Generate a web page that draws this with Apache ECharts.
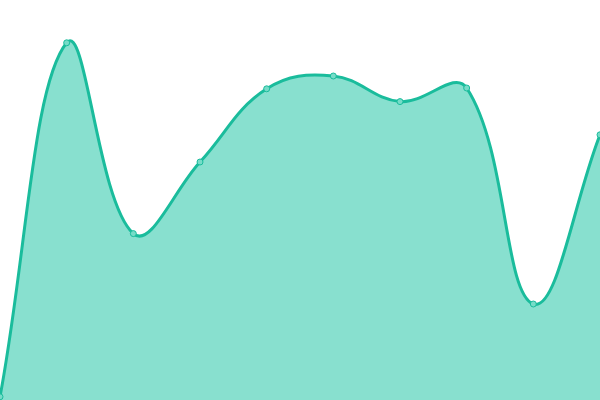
<!DOCTYPE html>
<html><head><meta charset="utf-8">
<script src="https://cdn.jsdelivr.net/npm/echarts@6/dist/echarts.min.js"></script>
<style>html,body{margin:0;padding:0;background:#fff}#c{width:600px;height:400px}</style>
</head><body><div id="c"></div>
<script>
var categories = ['A','B','C','D','E','F','G','H','I','J'];
var values = [0.8, 89.3, 41.6, 59.5, 77.8, 81, 74.6, 78, 24, 66.3];
var tension = 0.4;

function buildPaths(api) {
  var pts = values.map(function (v, i) { var c = api.coord([i, v]); return {x: c[0], y: c[1]}; });
  var base = api.coord([0, 0])[1];
  var top = api.coord([0, 100])[1];
  var n = pts.length;
  var cps = [];
  for (var i = 0; i < n; i++) {
    var prev = i > 0 ? pts[i - 1] : pts[i];
    var cur = pts[i];
    var next = i < n - 1 ? pts[i + 1] : pts[i];
    var d01 = Math.hypot(cur.x - prev.x, cur.y - prev.y);
    var d12 = Math.hypot(next.x - cur.x, next.y - cur.y);
    var s01 = d01 / (d01 + d12), s12 = d12 / (d01 + d12);
    if (isNaN(s01)) s01 = 0; if (isNaN(s12)) s12 = 0;
    var fa = tension * s01, fb = tension * s12;
    var cl = function (y) { return Math.max(top, Math.min(base, y)); };
    cps.push({
      px: cur.x - fa * (next.x - prev.x), py: cl(cur.y - fa * (next.y - prev.y)),
      nx: cur.x + fb * (next.x - prev.x), ny: cl(cur.y + fb * (next.y - prev.y))
    });
  }
  var d = 'M' + pts[0].x + ' ' + pts[0].y;
  for (var j = 1; j < n; j++) {
    d += ' C' + cps[j - 1].nx + ' ' + cps[j - 1].ny + ' ' + cps[j].px + ' ' + cps[j].py + ' ' + pts[j].x + ' ' + pts[j].y;
  }
  var area = d + ' L' + pts[n - 1].x + ' ' + base + ' L' + pts[0].x + ' ' + base + ' Z';
  return {line: d, area: area};
}

var chart = echarts.init(document.getElementById('c'));
chart.setOption({
  animation: false,
  grid: {left: 0, right: 0, top: 0, bottom: 0},
  xAxis: {type: 'category', data: categories, boundaryGap: false, show: false},
  yAxis: {type: 'value', min: 0, max: 100, show: false},
  series: [{
    type: 'custom',
    data: [0],
    renderItem: function (params, api) {
      var p = buildPaths(api);
      return {
        type: 'group',
        children: [
          {type: 'path', shape: {pathData: p.area}, style: {fill: '#88e0cf', stroke: null}},
          {type: 'path', shape: {pathData: p.line}, style: {fill: null, stroke: '#1abc9c', lineWidth: 3}}
        ]
      };
    }
  }, {
    type: 'scatter',
    data: values.map(function (v, i) { return [i, v]; }),
    symbol: 'circle',
    symbolSize: 6,
    itemStyle: {color: '#76dcc8', borderColor: '#1abc9c', borderWidth: 1, opacity: 1}
  }]
});
</script></body></html>
